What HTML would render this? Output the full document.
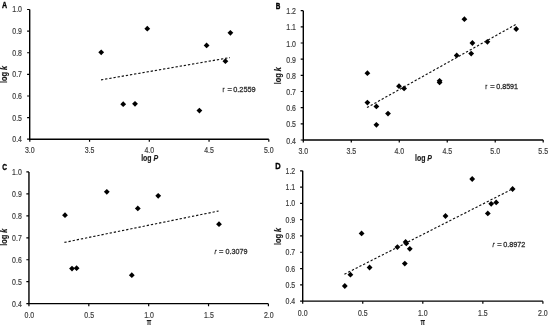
<!DOCTYPE html>
<html><head><meta charset="utf-8"><style>
html,body{margin:0;padding:0;background:#fff;width:550px;height:325px;overflow:hidden}
svg{display:block;will-change:transform}
text{font-family:"Liberation Sans", sans-serif}
.t{font-size:8.3px;fill:#3a3a3a;stroke:#3a3a3a;stroke-width:0.18px}
.T{font-size:8.5px;font-weight:bold;fill:#1a1a1a;stroke:#1a1a1a;stroke-width:0.15px}
.L{font-size:9px;font-weight:bold;fill:#000;stroke:#000;stroke-width:0.35px}
.r{font-size:8px;fill:#2a2a2a;stroke:#2a2a2a;stroke-width:0.28px}
</style></head><body>
<svg width="550" height="325" viewBox="0 0 550 325">
<rect width="550" height="325" fill="#fff"/>
<path d="M29.7 9.5V139.2H268.8" fill="none" stroke="#000" stroke-width="1.4"/>
<path d="M27.10 9.50H29.7 M27.10 31.12H29.7 M27.10 52.74H29.7 M27.10 74.36H29.7 M27.10 95.98H29.7 M27.10 117.60H29.7 M27.10 139.22H29.7 M29.80 139.2V141.80 M89.55 139.2V141.80 M149.30 139.2V141.80 M209.05 139.2V141.80 M268.80 139.2V141.80" fill="none" stroke="#000" stroke-width="1.2"/>
<text x="22" y="12.40" text-anchor="end" class="t" textLength="9.7" lengthAdjust="spacingAndGlyphs">1.0</text>
<text x="22" y="34.02" text-anchor="end" class="t" textLength="9.7" lengthAdjust="spacingAndGlyphs">0.9</text>
<text x="22" y="55.64" text-anchor="end" class="t" textLength="9.7" lengthAdjust="spacingAndGlyphs">0.8</text>
<text x="22" y="77.26" text-anchor="end" class="t" textLength="9.7" lengthAdjust="spacingAndGlyphs">0.7</text>
<text x="22" y="98.88" text-anchor="end" class="t" textLength="9.7" lengthAdjust="spacingAndGlyphs">0.6</text>
<text x="22" y="120.50" text-anchor="end" class="t" textLength="9.7" lengthAdjust="spacingAndGlyphs">0.5</text>
<text x="22" y="142.12" text-anchor="end" class="t" textLength="9.7" lengthAdjust="spacingAndGlyphs">0.4</text>
<text x="29.80" y="152.8" text-anchor="middle" class="t" textLength="9.7" lengthAdjust="spacingAndGlyphs">3.0</text>
<text x="89.55" y="152.8" text-anchor="middle" class="t" textLength="9.7" lengthAdjust="spacingAndGlyphs">3.5</text>
<text x="149.30" y="152.8" text-anchor="middle" class="t" textLength="9.7" lengthAdjust="spacingAndGlyphs">4.0</text>
<text x="209.05" y="152.8" text-anchor="middle" class="t" textLength="9.7" lengthAdjust="spacingAndGlyphs">4.5</text>
<text x="268.80" y="152.8" text-anchor="middle" class="t" textLength="9.7" lengthAdjust="spacingAndGlyphs">5.0</text>
<g fill="#000"><path d="M101.20 49.40L104.10 52.30L101.20 55.20L98.30 52.30Z"/><path d="M147.30 25.80L150.20 28.70L147.30 31.60L144.40 28.70Z"/><path d="M206.60 42.50L209.50 45.40L206.60 48.30L203.70 45.40Z"/><path d="M230.40 29.90L233.30 32.80L230.40 35.70L227.50 32.80Z"/><path d="M225.40 58.30L228.30 61.20L225.40 64.10L222.50 61.20Z"/><path d="M123.20 101.30L126.10 104.20L123.20 107.10L120.30 104.20Z"/><path d="M135.00 100.90L137.90 103.80L135.00 106.70L132.10 103.80Z"/><path d="M199.40 107.70L202.30 110.60L199.40 113.50L196.50 110.60Z"/></g>
<path d="M101 79.9L230 57.6" stroke="#111" stroke-width="1.15" stroke-dasharray="2.3 1.9" fill="none"/>
<path d="M303.3 10.65V140H543.2" fill="none" stroke="#000" stroke-width="1.4"/>
<path d="M300.70 10.65H303.3 M300.70 26.82H303.3 M300.70 42.99H303.3 M300.70 59.16H303.3 M300.70 75.33H303.3 M300.70 91.50H303.3 M300.70 107.67H303.3 M300.70 123.84H303.3 M300.70 140.01H303.3 M303.30 140V142.60 M351.28 140V142.60 M399.26 140V142.60 M447.24 140V142.60 M495.22 140V142.60 M543.20 140V142.60" fill="none" stroke="#000" stroke-width="1.2"/>
<text x="296" y="14.25" text-anchor="end" class="t" textLength="9.7" lengthAdjust="spacingAndGlyphs">1.2</text>
<text x="296" y="30.42" text-anchor="end" class="t" textLength="9.7" lengthAdjust="spacingAndGlyphs">1.1</text>
<text x="296" y="46.59" text-anchor="end" class="t" textLength="9.7" lengthAdjust="spacingAndGlyphs">1.0</text>
<text x="296" y="62.76" text-anchor="end" class="t" textLength="9.7" lengthAdjust="spacingAndGlyphs">0.9</text>
<text x="296" y="78.93" text-anchor="end" class="t" textLength="9.7" lengthAdjust="spacingAndGlyphs">0.8</text>
<text x="296" y="95.10" text-anchor="end" class="t" textLength="9.7" lengthAdjust="spacingAndGlyphs">0.7</text>
<text x="296" y="111.27" text-anchor="end" class="t" textLength="9.7" lengthAdjust="spacingAndGlyphs">0.6</text>
<text x="296" y="127.44" text-anchor="end" class="t" textLength="9.7" lengthAdjust="spacingAndGlyphs">0.5</text>
<text x="296" y="143.61" text-anchor="end" class="t" textLength="9.7" lengthAdjust="spacingAndGlyphs">0.4</text>
<text x="303.30" y="153.8" text-anchor="middle" class="t" textLength="9.7" lengthAdjust="spacingAndGlyphs">3.0</text>
<text x="351.28" y="153.8" text-anchor="middle" class="t" textLength="9.7" lengthAdjust="spacingAndGlyphs">3.5</text>
<text x="399.26" y="153.8" text-anchor="middle" class="t" textLength="9.7" lengthAdjust="spacingAndGlyphs">4.0</text>
<text x="447.24" y="153.8" text-anchor="middle" class="t" textLength="9.7" lengthAdjust="spacingAndGlyphs">4.5</text>
<text x="495.22" y="153.8" text-anchor="middle" class="t" textLength="9.7" lengthAdjust="spacingAndGlyphs">5.0</text>
<text x="543.20" y="153.8" text-anchor="middle" class="t" textLength="9.7" lengthAdjust="spacingAndGlyphs">5.5</text>
<g fill="#000"><path d="M367.40 70.30L370.30 73.20L367.40 76.10L364.50 73.20Z"/><path d="M367.40 99.70L370.30 102.60L367.40 105.50L364.50 102.60Z"/><path d="M376.40 103.50L379.30 106.40L376.40 109.30L373.50 106.40Z"/><path d="M388.00 110.70L390.90 113.60L388.00 116.50L385.10 113.60Z"/><path d="M376.40 121.90L379.30 124.80L376.40 127.70L373.50 124.80Z"/><path d="M399.00 83.30L401.90 86.20L399.00 89.10L396.10 86.20Z"/><path d="M404.10 85.50L407.00 88.40L404.10 91.30L401.20 88.40Z"/><path d="M439.60 77.90L442.50 80.80L439.60 83.70L436.70 80.80Z"/><path d="M439.60 79.50L442.50 82.40L439.60 85.30L436.70 82.40Z"/><path d="M464.40 16.30L467.30 19.20L464.40 22.10L461.50 19.20Z"/><path d="M472.40 40.10L475.30 43.00L472.40 45.90L469.50 43.00Z"/><path d="M471.20 50.70L474.10 53.60L471.20 56.50L468.30 53.60Z"/><path d="M456.70 52.50L459.60 55.40L456.70 58.30L453.80 55.40Z"/><path d="M487.40 38.90L490.30 41.80L487.40 44.70L484.50 41.80Z"/><path d="M516.20 26.10L519.10 29.00L516.20 31.90L513.30 29.00Z"/></g>
<path d="M367 107.6L515.6 24.6" stroke="#111" stroke-width="1.15" stroke-dasharray="2.3 1.9" fill="none"/>
<path d="M28.95 171.9V303.65H268.4" fill="none" stroke="#000" stroke-width="1.4"/>
<path d="M26.35 171.90H28.95 M26.35 193.86H28.95 M26.35 215.82H28.95 M26.35 237.78H28.95 M26.35 259.74H28.95 M26.35 281.70H28.95 M26.35 303.66H28.95 M28.95 303.65V306.25 M88.81 303.65V306.25 M148.67 303.65V306.25 M208.53 303.65V306.25 M268.39 303.65V306.25" fill="none" stroke="#000" stroke-width="1.2"/>
<text x="21.8" y="174.80" text-anchor="end" class="t" textLength="9.7" lengthAdjust="spacingAndGlyphs">1.0</text>
<text x="21.8" y="196.76" text-anchor="end" class="t" textLength="9.7" lengthAdjust="spacingAndGlyphs">0.9</text>
<text x="21.8" y="218.72" text-anchor="end" class="t" textLength="9.7" lengthAdjust="spacingAndGlyphs">0.8</text>
<text x="21.8" y="240.68" text-anchor="end" class="t" textLength="9.7" lengthAdjust="spacingAndGlyphs">0.7</text>
<text x="21.8" y="262.64" text-anchor="end" class="t" textLength="9.7" lengthAdjust="spacingAndGlyphs">0.6</text>
<text x="21.8" y="284.60" text-anchor="end" class="t" textLength="9.7" lengthAdjust="spacingAndGlyphs">0.5</text>
<text x="21.8" y="306.56" text-anchor="end" class="t" textLength="9.7" lengthAdjust="spacingAndGlyphs">0.4</text>
<text x="29.35" y="318.1" text-anchor="middle" class="t" textLength="9.7" lengthAdjust="spacingAndGlyphs">0.0</text>
<text x="89.21" y="318.1" text-anchor="middle" class="t" textLength="9.7" lengthAdjust="spacingAndGlyphs">0.5</text>
<text x="149.07" y="318.1" text-anchor="middle" class="t" textLength="9.7" lengthAdjust="spacingAndGlyphs">1.0</text>
<text x="208.93" y="318.1" text-anchor="middle" class="t" textLength="9.7" lengthAdjust="spacingAndGlyphs">1.5</text>
<text x="268.79" y="318.1" text-anchor="middle" class="t" textLength="9.7" lengthAdjust="spacingAndGlyphs">2.0</text>
<g fill="#000"><path d="M65.00 212.30L67.90 215.20L65.00 218.10L62.10 215.20Z"/><path d="M106.80 188.90L109.70 191.80L106.80 194.70L103.90 191.80Z"/><path d="M137.80 205.50L140.70 208.40L137.80 211.30L134.90 208.40Z"/><path d="M158.20 192.90L161.10 195.80L158.20 198.70L155.30 195.80Z"/><path d="M219.00 221.30L221.90 224.20L219.00 227.10L216.10 224.20Z"/><path d="M72.00 265.70L74.90 268.60L72.00 271.50L69.10 268.60Z"/><path d="M76.60 265.30L79.50 268.20L76.60 271.10L73.70 268.20Z"/><path d="M131.80 272.30L134.70 275.20L131.80 278.10L128.90 275.20Z"/></g>
<path d="M64.4 242.4L218.6 211" stroke="#111" stroke-width="1.15" stroke-dasharray="2.3 1.9" fill="none"/>
<path d="M302.7 170.8V301.15H542.9" fill="none" stroke="#000" stroke-width="1.4"/>
<path d="M300.10 170.80H302.7 M300.10 187.09H302.7 M300.10 203.38H302.7 M300.10 219.67H302.7 M300.10 235.96H302.7 M300.10 252.25H302.7 M300.10 268.54H302.7 M300.10 284.83H302.7 M300.10 301.12H302.7 M302.70 301.15V303.75 M362.75 301.15V303.75 M422.80 301.15V303.75 M482.85 301.15V303.75 M542.90 301.15V303.75" fill="none" stroke="#000" stroke-width="1.2"/>
<text x="295.2" y="173.80" text-anchor="end" class="t" textLength="9.7" lengthAdjust="spacingAndGlyphs">1.2</text>
<text x="295.2" y="190.09" text-anchor="end" class="t" textLength="9.7" lengthAdjust="spacingAndGlyphs">1.1</text>
<text x="295.2" y="206.38" text-anchor="end" class="t" textLength="9.7" lengthAdjust="spacingAndGlyphs">1.0</text>
<text x="295.2" y="222.67" text-anchor="end" class="t" textLength="9.7" lengthAdjust="spacingAndGlyphs">0.9</text>
<text x="295.2" y="238.96" text-anchor="end" class="t" textLength="9.7" lengthAdjust="spacingAndGlyphs">0.8</text>
<text x="295.2" y="255.25" text-anchor="end" class="t" textLength="9.7" lengthAdjust="spacingAndGlyphs">0.7</text>
<text x="295.2" y="271.54" text-anchor="end" class="t" textLength="9.7" lengthAdjust="spacingAndGlyphs">0.6</text>
<text x="295.2" y="287.83" text-anchor="end" class="t" textLength="9.7" lengthAdjust="spacingAndGlyphs">0.5</text>
<text x="295.2" y="304.12" text-anchor="end" class="t" textLength="9.7" lengthAdjust="spacingAndGlyphs">0.4</text>
<text x="302.70" y="315.6" text-anchor="middle" class="t" textLength="9.7" lengthAdjust="spacingAndGlyphs">0.0</text>
<text x="362.75" y="315.6" text-anchor="middle" class="t" textLength="9.7" lengthAdjust="spacingAndGlyphs">0.5</text>
<text x="422.80" y="315.6" text-anchor="middle" class="t" textLength="9.7" lengthAdjust="spacingAndGlyphs">1.0</text>
<text x="482.85" y="315.6" text-anchor="middle" class="t" textLength="9.7" lengthAdjust="spacingAndGlyphs">1.5</text>
<text x="542.90" y="315.6" text-anchor="middle" class="t" textLength="9.7" lengthAdjust="spacingAndGlyphs">2.0</text>
<g fill="#000"><path d="M361.60 230.50L364.50 233.40L361.60 236.30L358.70 233.40Z"/><path d="M350.40 271.80L353.30 274.70L350.40 277.60L347.50 274.70Z"/><path d="M369.60 264.60L372.50 267.50L369.60 270.40L366.70 267.50Z"/><path d="M397.40 244.20L400.30 247.10L397.40 250.00L394.50 247.10Z"/><path d="M405.60 239.00L408.50 241.90L405.60 244.80L402.70 241.90Z"/><path d="M406.30 240.50L409.20 243.40L406.30 246.30L403.40 243.40Z"/><path d="M409.80 245.90L412.70 248.80L409.80 251.70L406.90 248.80Z"/><path d="M404.80 260.70L407.70 263.60L404.80 266.50L401.90 263.60Z"/><path d="M344.80 283.10L347.70 286.00L344.80 288.90L341.90 286.00Z"/><path d="M472.20 176.10L475.10 179.00L472.20 181.90L469.30 179.00Z"/><path d="M512.60 186.10L515.50 189.00L512.60 191.90L509.70 189.00Z"/><path d="M491.20 200.90L494.10 203.80L491.20 206.70L488.30 203.80Z"/><path d="M496.20 199.50L499.10 202.40L496.20 205.30L493.30 202.40Z"/><path d="M487.80 210.50L490.70 213.40L487.80 216.30L484.90 213.40Z"/><path d="M445.50 213.10L448.40 216.00L445.50 218.90L442.60 216.00Z"/></g>
<path d="M344.4 274.2L511.6 189.4" stroke="#111" stroke-width="1.15" stroke-dasharray="2.3 1.9" fill="none"/>
<text x="2" y="7.7" class="L" textLength="5.1" lengthAdjust="spacingAndGlyphs">A</text>
<text x="275.8" y="8.5" class="L" textLength="4.6" lengthAdjust="spacingAndGlyphs">B</text>
<text x="2.3" y="169.5" class="L" textLength="4.8" lengthAdjust="spacingAndGlyphs">C</text>
<text x="275.2" y="169" class="L" textLength="5.4" lengthAdjust="spacingAndGlyphs">D</text>
<text x="149.7" y="160.6" text-anchor="middle" class="T" textLength="17" lengthAdjust="spacingAndGlyphs">log <tspan font-style="italic">P</tspan></text>
<text x="423.5" y="160.9" text-anchor="middle" class="T" textLength="17" lengthAdjust="spacingAndGlyphs">log <tspan font-style="italic">P</tspan></text>
<text x="149.1" y="325.9" text-anchor="middle" class="T" style="font-size:10px" textLength="4.6" lengthAdjust="spacingAndGlyphs">π</text>
<text x="422.9" y="325.9" text-anchor="middle" class="T" style="font-size:10px" textLength="4.6" lengthAdjust="spacingAndGlyphs">π</text>
<text transform="translate(7.0 74.5) rotate(-90)" text-anchor="middle" class="T" style="font-size:8.2px" textLength="17" lengthAdjust="spacingAndGlyphs">log <tspan font-style="italic">k</tspan></text>
<text transform="translate(280.9 75.8) rotate(-90)" text-anchor="middle" class="T" style="font-size:8.2px" textLength="17" lengthAdjust="spacingAndGlyphs">log <tspan font-style="italic">k</tspan></text>
<text transform="translate(6.9 237.2) rotate(-90)" text-anchor="middle" class="T" style="font-size:8.2px" textLength="17" lengthAdjust="spacingAndGlyphs">log <tspan font-style="italic">k</tspan></text>
<text transform="translate(280.8 236.4) rotate(-90)" text-anchor="middle" class="T" style="font-size:8.2px" textLength="17" lengthAdjust="spacingAndGlyphs">log <tspan font-style="italic">k</tspan></text>
<text x="222.6" y="91.9" class="r" textLength="2" lengthAdjust="spacingAndGlyphs">r</text>
<text x="227.60" y="91.9" class="r" textLength="4.4" lengthAdjust="spacingAndGlyphs">=</text>
<text x="233.2" y="91.9" class="r" textLength="22.50" lengthAdjust="spacingAndGlyphs">0.2559</text>
<text x="485.3" y="88.6" class="r" textLength="2" lengthAdjust="spacingAndGlyphs">r</text>
<text x="490.30" y="88.6" class="r" textLength="4.4" lengthAdjust="spacingAndGlyphs">=</text>
<text x="496.2" y="88.6" class="r" textLength="21.90" lengthAdjust="spacingAndGlyphs">0.8591</text>
<text x="214.6" y="253.6" class="r" textLength="2" lengthAdjust="spacingAndGlyphs"><tspan font-style="italic">r</tspan></text>
<text x="219.00" y="253.6" class="r" textLength="4.4" lengthAdjust="spacingAndGlyphs">=</text>
<text x="225.5" y="253.6" class="r" textLength="21.90" lengthAdjust="spacingAndGlyphs">0.3079</text>
<text x="492.6" y="247.1" class="r" textLength="2" lengthAdjust="spacingAndGlyphs"><tspan font-style="italic">r</tspan></text>
<text x="497.30" y="247.1" class="r" textLength="4.4" lengthAdjust="spacingAndGlyphs">=</text>
<text x="503.2" y="247.1" class="r" textLength="22.20" lengthAdjust="spacingAndGlyphs">0.8972</text>
</svg>
</body></html>
